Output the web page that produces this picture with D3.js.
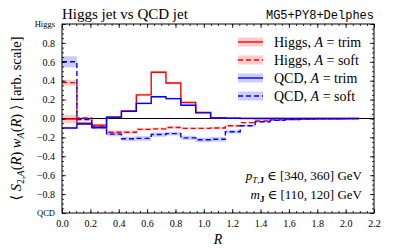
<!DOCTYPE html>
<html>
<head>
<meta charset="utf-8">
<script src="https://cdn.jsdelivr.net/npm/d3@7"></script>
<style>
  body { margin: 0; background: #fff; }
  svg { display: block; }
  text { font-family: 'Liberation Serif', 'DejaVu Serif', serif; fill: #000; }
  .axis path { display: none; }
  .axis line { stroke: #000; stroke-width: 0.8; }
</style>
</head>
<body>
<svg id="chart" width="407" height="249"></svg>
<script>
// bin edges in R (20 bins)
const binEdges = [0, 0.105, 0.21, 0.314, 0.419, 0.524, 0.629, 0.733, 0.838, 0.943,
  1.048, 1.152, 1.257, 1.362, 1.467, 1.571, 1.676, 1.781, 1.886, 1.990, 2.095];

const higgsTrim = [-0.005, -0.05, -0.07, 0.015, 0.08, 0.25, 0.49, 0.375, 0.17, 0.065,
  0.005, 0.002, 0, 0, 0, 0, 0, 0, 0, 0];
const higgsTrimErr = [0.045, 0.01, 0.01, 0.01, 0.01, 0.012, 0.015, 0.012, 0.01, 0.008,
  0.005, 0.003, 0.002, 0.002, 0.002, 0.002, 0.002, 0.002, 0.002, 0.002];
const higgsSoft = [0.38, 0.005, -0.08, -0.145, -0.145, -0.115, -0.11, -0.095, -0.105, -0.105,
  -0.1, -0.076, -0.044, -0.026, -0.015, -0.01, -0.006, -0.004, -0.002, -0.001];
const higgsSoftErr = [0.03, 0.01, 0.012, 0.018, 0.018, 0.015, 0.015, 0.012, 0.012, 0.012,
  0.012, 0.01, 0.008, 0.006, 0.005, 0.004, 0.003, 0.002, 0.002, 0.002];
const qcdTrim = [-0.1, -0.058, -0.095, 0.015, 0.075, 0.16, 0.23, 0.21, 0.14, 0.06,
  0.005, 0.002, 0.001, 0, 0, 0, 0, 0, 0, 0];
const qcdTrimErr = [0.012, 0.01, 0.01, 0.01, 0.01, 0.012, 0.012, 0.012, 0.01, 0.008,
  0.005, 0.003, 0.002, 0.002, 0.002, 0.002, 0.002, 0.002, 0.002, 0.002];
const qcdSoft = [0.6, -0.01, -0.095, -0.165, -0.215, -0.21, -0.17, -0.16, -0.205, -0.225,
  -0.22, -0.14, -0.076, -0.034, -0.02, -0.012, -0.007, -0.004, -0.002, -0.001];
const qcdSoftErr = [0.06, 0.012, 0.015, 0.022, 0.025, 0.025, 0.022, 0.02, 0.022, 0.025,
  0.025, 0.02, 0.012, 0.008, 0.006, 0.005, 0.004, 0.003, 0.002, 0.002];

const xTicks = [0, 0.2, 0.4, 0.6, 0.8, 1.0, 1.2, 1.4, 1.6, 1.8, 2.0, 2.2];
const yTicks = [-1, -0.8, -0.6, -0.4, -0.2, 0, 0.2, 0.4, 0.6, 0.8, 1];
const yEndLabels = { '-1': 'QCD', '1': 'Higgs' };

const series = [
  { name: 'Higgs', algo: 'trim', vals: higgsTrim, err: higgsTrimErr, color: '#ff0000', dash: null },
  { name: 'Higgs', algo: 'soft', vals: higgsSoft, err: higgsSoftErr, color: '#ff0000', dash: '5,3' },
  { name: 'QCD', algo: 'trim', vals: qcdTrim, err: qcdTrimErr, color: '#0000ff', dash: null },
  { name: 'QCD', algo: 'soft', vals: qcdSoft, err: qcdSoftErr, color: '#0000ff', dash: '5,3' }
];

const margin = { left: 62, right: 33, top: 24, bottom: 36 };
const W = 407, H = 249;
const svg = d3.select('#chart');

const x = d3.scaleLinear().domain([0, 2.2]).range([margin.left, W - margin.right]);
const y = d3.scaleLinear().domain([-1, 1]).range([H - margin.bottom, margin.top]);

// step points: one per edge, last repeats last value
function stepData(s) {
  return binEdges.map((e, i) => {
    const k = Math.min(i, s.vals.length - 1);
    return { r: e, v: s.vals[k], e: s.err[k] };
  });
}

const g = svg.append('g');

// zero line
g.append('line')
  .attr('x1', x(0)).attr('x2', x(2.2))
  .attr('y1', y(0)).attr('y2', y(0))
  .attr('stroke', '#000').attr('stroke-width', 1);

const area = d3.area()
  .curve(d3.curveStepAfter)
  .x(d => x(d.r))
  .y0(d => y(d.v - d.e))
  .y1(d => y(d.v + d.e));

const line = d3.line()
  .curve(d3.curveStepAfter)
  .x(d => x(d.r))
  .y(d => y(d.v));

series.forEach(s => {
  g.append('path')
    .attr('d', area(stepData(s)))
    .attr('fill', s.color)
    .attr('fill-opacity', 0.2);
});

series.forEach(s => {
  g.append('path')
    .attr('d', line(stepData(s)))
    .attr('fill', 'none')
    .attr('stroke', s.color)
    .attr('stroke-width', 1.4)
    .attr('stroke-dasharray', s.dash);
});

// axes, ticks pointing inward
const fmt = d3.format('.1f');
const minorX = d3.range(0, 2.2001, 0.05);
const minorY = d3.range(-1, 1.0001, 0.05);

function addAxis(axisFn, scale, major, minor, transform, withLabels, labelFn) {
  svg.append('g').attr('class', 'axis').attr('transform', transform)
    .call(axisFn(scale).tickValues(minor).tickSize(-2).tickFormat(''));
  const a = svg.append('g').attr('class', 'axis').attr('transform', transform)
    .call(axisFn(scale).tickValues(major).tickSize(-4).tickPadding(7)
      .tickFormat(withLabels ? labelFn : ''));
  return a;
}

const xa = addAxis(d3.axisBottom, x, xTicks, minorX, `translate(0,${H - margin.bottom})`, true, fmt);
xa.selectAll('text').style('font-size', '10px');
addAxis(d3.axisTop, x, xTicks, minorX, `translate(0,${margin.top})`, false);
const ya = addAxis(d3.axisLeft, y, yTicks, minorY, `translate(${margin.left},0)`, true,
  d => yEndLabels[String(d)] || fmt(d));
ya.selectAll('text').style('font-size', d => yEndLabels[String(d)] ? '8.5px' : '10px');
addAxis(d3.axisRight, y, yTicks, minorY, `translate(${W - margin.right},0)`, false);

// frame
svg.append('rect')
  .attr('x', margin.left).attr('y', margin.top)
  .attr('width', W - margin.left - margin.right)
  .attr('height', H - margin.top - margin.bottom)
  .attr('fill', 'none').attr('stroke', '#000').attr('stroke-width', 1);

// titles
svg.append('text')
  .attr('x', margin.left).attr('y', 19)
  .style('font-size', '15px')
  .text('Higgs jet vs QCD jet');

svg.append('text')
  .attr('x', W - margin.right).attr('y', 19)
  .attr('text-anchor', 'end')
  .style('font-family', "'Liberation Mono', 'DejaVu Sans Mono', monospace")
  .style('font-size', '12px')
  .text('MG5+PY8+Delphes');

// x label
svg.append('text')
  .attr('x', (x(0) + x(2.2)) / 2).attr('y', 244)
  .attr('text-anchor', 'middle')
  .style('font-size', '14px').style('font-style', 'italic')
  .text('R');

// y label
const yl = svg.append('text')
  .attr('transform', `translate(21,${(y(-1) + y(1)) / 2}) rotate(-90)`)
  .attr('text-anchor', 'middle')
  .style('font-size', '14.5px');
const sub = '10px';
yl.append('tspan').text('⟨ ');
yl.append('tspan').style('font-style', 'italic').text('S');
yl.append('tspan').attr('baseline-shift', '-30%').style('font-size', sub).text('2,');
yl.append('tspan').attr('baseline-shift', '-30%').style('font-size', sub).style('font-style', 'italic').text('A');
yl.append('tspan').text('(');
yl.append('tspan').style('font-style', 'italic').text('R');
yl.append('tspan').text(') ');
yl.append('tspan').style('font-style', 'italic').text('w');
yl.append('tspan').attr('baseline-shift', '-30%').style('font-size', sub).style('font-style', 'italic').text('A');
yl.append('tspan').text('(');
yl.append('tspan').style('font-style', 'italic').text('R');
yl.append('tspan').text(') ⟩  [arb. scale]');

// legend
const leg = svg.append('g').attr('transform', 'translate(238,42)');
series.forEach((s, i) => {
  const row = leg.append('g').attr('transform', `translate(0,${i * 18})`);
  row.append('rect')
    .attr('x', 0).attr('y', -4.5).attr('width', 25).attr('height', 9)
    .attr('fill', s.color).attr('fill-opacity', 0.2);
  row.append('line')
    .attr('x1', 0).attr('x2', 25).attr('y1', 0).attr('y2', 0)
    .attr('stroke', s.color).attr('stroke-width', 1.4)
    .attr('stroke-dasharray', s.dash);
  const t = row.append('text').attr('x', 36).attr('y', 4.5).style('font-size', '14px');
  t.append('tspan').text(s.name + ', ');
  t.append('tspan').style('font-style', 'italic').text('A');
  t.append('tspan').text(' = ' + s.algo);
});

// cut annotation
const ann = svg.append('g').style('font-size', '13px');
const a1 = ann.append('text').attr('x', 362).attr('y', 180).attr('text-anchor', 'end');
a1.append('tspan').style('font-style', 'italic').text('p');
a1.append('tspan').attr('baseline-shift', '-30%').style('font-size', '9px').style('font-style', 'italic').text('T');
a1.append('tspan').attr('baseline-shift', '-30%').style('font-size', '9px').text(',');
a1.append('tspan').attr('baseline-shift', '-30%').style('font-size', '9px').style('font-weight', 'bold').text('J');
a1.append('tspan').text(' ∈ [340, 360]  GeV');
const a2 = ann.append('text').attr('x', 362).attr('y', 199).attr('text-anchor', 'end');
a2.append('tspan').style('font-style', 'italic').text('m');
a2.append('tspan').attr('baseline-shift', '-30%').style('font-size', '9px').style('font-weight', 'bold').text('J');
a2.append('tspan').text('   ∈ [110, 120]  GeV');
</script>
</body>
</html>
